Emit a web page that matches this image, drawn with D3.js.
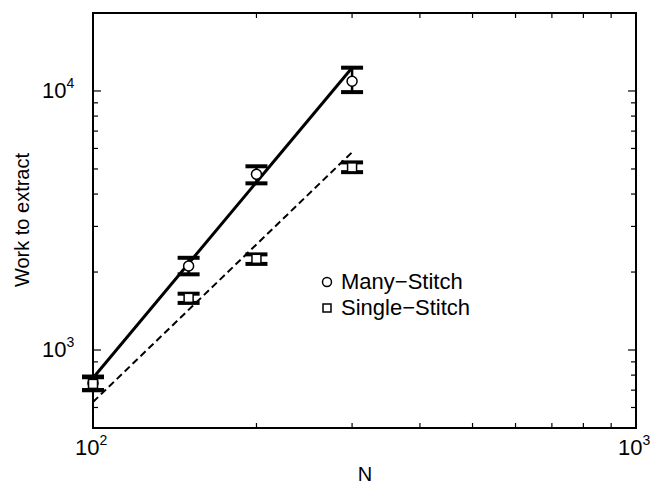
<!DOCTYPE html>
<html>
<head>
<meta charset="utf-8">
<script src="https://cdn.jsdelivr.net/npm/d3@7"></script>
<style>
    body { margin: 0; background: #fff; }
    text { font-family: "Liberation Sans", Arial, sans-serif; fill: #000; }
</style>
</head>
<body>
<div id="chart"></div>
<script>
// Data
const N_VALUES = [100, 150, 200, 300];
const manyStitch = [745, 2110, 4770, 10900];
const manyLow = [700, 1960, 4400, 9900];
const manyHigh = [790, 2270, 5120, 12300];
const singleStitch = [740, 1590, 2250, 5070];
const singleLow = [700, 1520, 2150, 4860];
const singleHigh = [785, 1650, 2340, 5300];
// power law fits, endpoints
const fitMany = [[100, 780], [300, 12300]];
const fitSingle = [[100, 630], [300, 5800]];
const X_TICKS = [100, 1000];
const Y_TICKS = [1000, 10000];
const LEGEND = ["Many\u2212Stitch", "Single\u2212Stitch"];

const WIDTH = 650;
const HEIGHT = 484;
const margin = { left: 93, top: 13, right: 14, bottom: 56 };

const svg = d3.select("#chart")
    .append("svg")
    .attr("width", WIDTH)
    .attr("height", HEIGHT);

const x = d3.scaleLog()
    .domain([100, 1000])
    .range([margin.left, WIDTH - margin.right]);

const y = d3.scaleLog()
    .domain([500, 20000])
    .range([HEIGHT - margin.bottom, margin.top]);

// minor ticks
const xMinor = d3.range(200, 1000, 100);
const yMinor = d3.range(600, 1000, 100)
    .concat(d3.range(2000, 10000, 1000))
    .concat([20000]);

const TICK = 6;
const g = svg.append("g");

// frame
g.append("rect")
    .attr("x", x.range()[0])
    .attr("y", y.range()[1])
    .attr("width", x.range()[1] - x.range()[0])
    .attr("height", y.range()[0] - y.range()[1])
    .attr("fill", "none")
    .attr("stroke", "#000")
    .attr("stroke-width", 2);

// ticks, pointing inward on all four sides
const xt = X_TICKS.concat(xMinor);
xt.forEach(v => {
    const big = X_TICKS.includes(v);
    const len = big ? TICK + 2 : TICK - 1;
    g.append("line").attr("x1", x(v)).attr("x2", x(v))
        .attr("y1", y.range()[0]).attr("y2", y.range()[0] - len)
        .attr("stroke", "#000").attr("stroke-width", 1.2);
    g.append("line").attr("x1", x(v)).attr("x2", x(v))
        .attr("y1", y.range()[1]).attr("y2", y.range()[1] + len)
        .attr("stroke", "#000").attr("stroke-width", 1.2);
});
const yt = Y_TICKS.concat(yMinor);
yt.forEach(v => {
    const big = Y_TICKS.includes(v);
    const len = big ? TICK + 2 : TICK - 1;
    g.append("line").attr("y1", y(v)).attr("y2", y(v))
        .attr("x1", x.range()[0]).attr("x2", x.range()[0] + len)
        .attr("stroke", "#000").attr("stroke-width", 1.2);
    g.append("line").attr("y1", y(v)).attr("y2", y(v))
        .attr("x1", x.range()[1]).attr("x2", x.range()[1] - len)
        .attr("stroke", "#000").attr("stroke-width", 1.2);
});

// tick labels: 10^k
function powLabel(sel, v) {
    const k = Math.round(Math.log10(v));
    sel.append("tspan").text("10");
    sel.append("tspan").attr("dy", -10).attr("font-size", 14).text(k);
}

X_TICKS.forEach(v => {
    const t = g.append("text")
        .attr("x", x(v) - 18)
        .attr("y", y.range()[0] + 27)
        .attr("font-size", 22);
    powLabel(t, v);
});

Y_TICKS.forEach(v => {
    const t = g.append("text")
        .attr("x", x.range()[0] - 51)
        .attr("y", y(v) + 7)
        .attr("font-size", 22);
    powLabel(t, v);
});

// axis titles
g.append("text")
    .attr("x", 365)
    .attr("y", 481)
    .attr("text-anchor", "middle")
    .attr("font-size", 20)
    .text("N");

g.append("text")
    .attr("transform", `translate(29, 220) rotate(-90)`)
    .attr("text-anchor", "middle")
    .attr("font-size", 20)
    .text("Work to extract");

// fit lines
const line = d3.line().x(d => x(d[0])).y(d => y(d[1]));

g.append("path")
    .attr("d", line(fitMany))
    .attr("fill", "none")
    .attr("stroke", "#000")
    .attr("stroke-width", 3);

g.append("path")
    .attr("d", line(fitSingle))
    .attr("fill", "none")
    .attr("stroke", "#000")
    .attr("stroke-width", 2)
    .attr("stroke-dasharray", "7,4");

// error bars
function errorBars(low, high) {
    N_VALUES.forEach((n, i) => {
        const cx = x(n);
        g.append("line")
            .attr("x1", cx).attr("x2", cx)
            .attr("y1", y(low[i])).attr("y2", y(high[i]))
            .attr("stroke", "#000").attr("stroke-width", 2.5);
        [low[i], high[i]].forEach(v => {
            g.append("line")
                .attr("x1", cx - 11).attr("x2", cx + 11)
                .attr("y1", y(v)).attr("y2", y(v))
                .attr("stroke", "#000").attr("stroke-width", 4);
        });
    });
}
errorBars(manyLow, manyHigh);
errorBars(singleLow, singleHigh);

// markers
g.selectAll(".many")
    .data(N_VALUES.map((n, i) => [n, manyStitch[i]]))
    .enter()
    .append("circle")
    .attr("class", "many")
    .attr("cx", d => x(d[0]))
    .attr("cy", d => y(d[1]))
    .attr("r", 5)
    .attr("fill", "#fff")
    .attr("stroke", "#000")
    .attr("stroke-width", 1.5);

g.selectAll(".single")
    .data(N_VALUES.map((n, i) => [n, singleStitch[i]]))
    .enter()
    .append("rect")
    .attr("class", "single")
    .attr("x", d => x(d[0]) - 4.5)
    .attr("y", d => y(d[1]) - 4.5)
    .attr("width", 9)
    .attr("height", 9)
    .attr("fill", "#fff")
    .attr("stroke", "#000")
    .attr("stroke-width", 1.5);

// legend
const legend = g.append("g").attr("transform", "translate(327, 282)");
legend.append("circle")
    .attr("cx", 0).attr("cy", 0).attr("r", 4.5)
    .attr("fill", "#fff").attr("stroke", "#000").attr("stroke-width", 1.5);
legend.append("rect")
    .attr("x", -4).attr("y", 22).attr("width", 8).attr("height", 8)
    .attr("fill", "#fff").attr("stroke", "#000").attr("stroke-width", 1.5);
LEGEND.forEach((name, i) => {
    legend.append("text")
        .attr("x", 14)
        .attr("y", 7 + i * 26)
        .attr("font-size", 22)
        .text(name);
});
</script>
</body>
</html>
